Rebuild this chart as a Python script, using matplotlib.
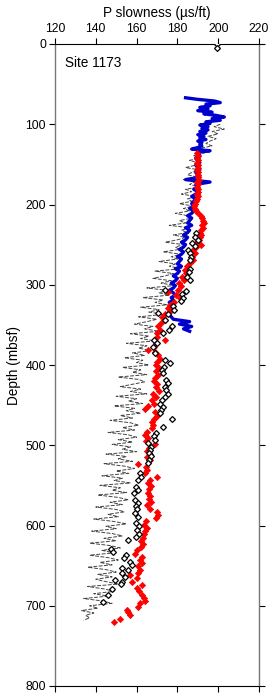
import numpy as np
import matplotlib
matplotlib.use("Agg")
import matplotlib.pyplot as plt

plt.rcParams['font.family'] = ['Liberation Sans', 'DejaVu Sans']

# ---- data ----
x_ticks = [120, 140, 160, 180, 200, 220]
y_ticks = [0, 100, 200, 300, 400, 500, 600, 700, 800]

gray_depth = [100, 103, 106, 109, 112, 115, 118, 121, 124, 127, 130, 133,
              136, 139, 142, 145, 148, 151, 154, 157, 160, 163, 166, 169, 172, 175, 178, 181, 184, 187, 190, 193, 196, 199,
              202, 205, 208, 211, 214, 217, 220, 223, 226, 229, 232, 235, 238, 241, 244, 247, 250, 253, 256, 259,
              262, 265, 268, 271, 274, 277, 280, 283, 286, 289, 292, 295, 298, 301, 304, 307, 310, 313, 316, 319, 322, 325, 328, 331, 334, 337, 340,
              343, 346, 349, 352, 355, 358, 361, 364, 367, 370, 373, 376, 379, 382, 385, 388, 391, 394, 397, 400, 403, 406, 409, 412, 415, 418,
              421, 424, 427, 430, 433, 436, 439, 442, 445, 448, 451, 454, 457, 460, 463, 466, 469, 472, 475, 478, 481, 484, 487, 490, 493, 496, 499,
              502, 505, 508, 511, 514, 517, 520, 523, 526, 529, 532, 535, 538, 541, 544, 547, 550, 553, 556, 559, 562, 565, 568, 571, 574, 577, 580,
              583, 586, 589, 592, 595, 598, 601, 604, 607, 610, 613, 616, 619, 622, 625, 628, 631, 634, 637, 640, 643, 646, 649, 652, 655, 658, 661,
              664, 667, 670, 673, 676, 679, 682, 685, 688, 691, 694, 697, 700, 703, 706, 709, 712, 715, 718]
gray_slow = [201, 198, 203, 197, 200, 195, 199, 196, 194, 197, 191, 195,
             193, 188, 191, 186, 190, 189, 184, 191, 187, 185, 190, 183, 188, 186, 191, 184, 187, 182, 189, 185, 187, 181,
             188, 183, 186, 179, 185, 187, 181, 184, 176, 186, 182, 185, 178, 184, 180, 174, 183, 179, 181, 173,
             182, 177, 180, 171, 179, 176, 182, 169, 178, 174, 168, 177, 172, 179, 165, 175, 171, 176, 163, 173, 169, 175, 162, 171, 166, 173, 161,
             170, 165, 159, 168, 164, 171, 157, 166, 162, 169, 155, 165, 161, 167, 158, 164, 154, 163, 160, 166, 153, 162, 158, 165, 151, 161,
             164, 158, 152, 162, 157, 165, 150, 160, 156, 163, 149, 159, 155, 162, 152, 158, 147, 157, 161, 153, 159, 146, 156, 160, 151, 158, 148,
             157, 153, 160, 145, 155, 151, 158, 144, 154, 159, 150, 156, 143, 153, 149, 157, 142, 152, 148, 155, 141, 151, 156, 147, 153, 140, 150,
             154, 146, 151, 139, 149, 155, 145, 150, 138, 148, 153, 144, 150, 137, 147, 152, 143, 149, 137, 146, 151, 142, 148, 136, 145, 150, 141,
             148, 140, 145, 151, 136, 144, 149, 139, 146, 134, 143, 148, 137, 141, 133, 139, 135, 137, 134]

blue_depth = [67, 69, 71, 73, 75, 77, 79, 81, 83, 85, 87, 89, 91, 93, 95, 97, 99, 101, 103, 105, 107, 109,
              111, 113, 115, 117, 119, 121, 123, 125, 127, 129, 131, 133, 135, 139, 142, 145, 148, 151, 154,
              157, 160, 163, 166, 169, 172, 175, 178, 181, 184, 187, 190, 193, 196, 199, 202, 205, 208, 211,
              214, 217, 220, 223, 226, 229, 232, 235, 238, 241, 244, 247, 250, 253, 256, 259, 262, 265, 268,
              271, 274, 277, 280, 283, 286, 289, 292, 295, 298, 301, 304, 307, 310, 313, 316, 319, 322, 325,
              328, 331, 334, 337, 340, 343, 346, 349, 352, 355, 358]
blue_slow = [184, 190, 198, 201, 194, 196, 191, 195, 190, 197, 193, 199, 203, 197, 201, 194, 196, 191, 195, 192, 195, 191,
             194, 190, 193, 191, 194, 190, 192, 191, 192, 190, 187, 196, 190, 191, 189, 190, 191, 189, 190,
             191, 189, 190, 191, 184, 196, 189, 190, 188, 190, 189, 187, 189, 188, 187, 188, 186, 188, 187,
             185, 187, 186, 185, 187, 184, 186, 185, 183, 185, 184, 182, 184, 183, 181, 183, 182, 180, 182,
             181, 180, 182, 179, 181, 180, 178, 180, 179, 177, 179, 178, 176, 178, 179, 177, 178, 176, 178,
             177, 176, 177, 176, 177, 178, 186, 181, 187, 183, 186]

red_depth = [136, 139, 142, 145, 148, 151, 154, 157, 160, 163, 166, 169, 172, 175, 178, 181, 184, 187, 190, 193,
             196, 199, 202, 205, 208, 211, 214, 217, 220, 223, 226, 229, 232, 235, 238, 241, 244, 247, 250, 253,
             257, 261, 265, 269, 273, 277, 281, 285, 290, 294, 298, 302, 306, 309, 313, 317, 321, 325, 329, 333,
             337, 340, 344, 348, 352, 356, 360, 365, 369, 373, 377, 381, 384, 388, 392, 396, 400, 404, 408, 412,
             416, 420, 424, 428, 432, 436, 440, 444, 448, 451, 455, 459, 463, 467, 471, 475, 479, 483, 487, 491,
             495, 499, 503, 507, 511, 515, 519, 523, 527, 531, 535, 539, 543, 547, 551, 555, 559, 563, 567, 571,
             575, 579, 583, 587, 591, 595, 599, 603, 607, 611, 615, 619, 623, 627, 631, 635, 639, 643, 647, 651,
             655, 659, 662, 666, 670, 674, 678, 682, 686, 690, 694, 697, 701, 705, 708, 712, 716, 720]
red_slow = [189.5, 190.0, 189.8, 190.2, 189.7, 190.1, 190.0, 189.6, 190.3, 189.9, 190.0, 190.4, 189.8, 190.1, 189.7, 190.2, 190.0, 189.6, 190.1, 189.4,
            188.9, 188.4, 188.1, 188.6, 189.3, 190.2, 191.4, 192.1, 192.5, 192.8, 192.3, 192.6, 191.8, 191.2, 191.6, 191.0, 190.4, 189.5, 191.8, 189.0,
            187.6, 188.8, 187.2, 187.8, 186.2, 184.6, 183.5, 184.2, 182.3, 183.0, 181.0, 181.8, 180.4, 175.6, 179.2, 181.3, 178.5, 176.2, 175.3, 176.4,
            173.8, 172.5, 174.0, 171.8, 170.5, 171.4, 169.8, 170.2, 173.8, 169.5, 168.4, 165.8, 169.1, 170.6, 171.3, 170.0, 169.6, 171.1, 169.3, 170.4,
            169.0, 168.3, 170.2, 169.5, 171.2, 168.0, 169.4, 167.6, 168.5, 165.8, 164.2, 169.1, 169.8, 168.6, 167.5, 168.2, 167.4, 165.1, 164.3, 165.6,
            164.8, 169.0, 166.2, 165.0, 166.4, 165.3, 166.7, 160.8, 164.5, 165.2, 164.0, 169.8, 166.5, 165.4, 167.2, 166.0, 165.5, 166.4, 165.9, 167.1,
            165.2, 166.8, 170.0, 170.6, 169.4, 164.5, 163.8, 165.0, 164.2, 163.6, 162.9, 162.4, 163.0, 162.0, 160.2, 159.4, 162.5, 161.9, 162.6, 160.9,
            161.5, 160.7, 156.8, 160.4, 157.6, 162.5, 160.2, 161.3, 162.7, 163.5, 164.1, 161.7, 160.8, 155.2, 155.6, 156.8, 151.9, 148.8]

black_depth = [0, 5, 236, 240, 244, 248, 252, 257, 261, 265, 269, 280, 284, 290, 294, 306, 308, 312, 316, 320,
               327, 331, 335, 337, 344, 352, 356, 360, 369, 373, 377, 385, 394, 398, 402, 406, 410, 419, 423, 427,
               431, 436, 440, 444, 448, 452, 456, 460, 467, 477, 485, 489, 493, 497, 502, 506, 510, 514, 518, 522,
               535, 539, 543, 552, 556, 560, 568, 572, 576, 580, 585, 589, 597, 601, 605, 610, 614, 618, 629, 633,
               637, 641, 645, 649, 653, 656, 659, 664, 668, 670, 673, 679, 687, 695]
black_slow = [199.6, 199.6, 189.0, 188.6, 190.0, 187.2, 188.4, 185.4, 186.2, 186.6, 186.0, 186.2, 185.8, 184.5, 186.0, 173.9, 184.0, 182.2, 182.8, 181.6,
              178.0, 178.4, 170.6, 175.5, 173.9, 177.2, 176.0, 173.0, 168.6, 169.8, 168.0, 169.0, 174.0, 176.4, 173.2, 172.6, 173.0, 174.2, 175.2, 173.9,
              174.4, 175.2, 174.0, 172.6, 171.5, 173.0, 172.2, 171.6, 177.2, 173.0, 169.6, 168.4, 169.2, 165.8, 167.2, 166.4, 165.9, 167.0, 166.0, 165.7,
              161.5, 162.3, 160.9, 159.8, 160.5, 158.6, 159.4, 160.6, 159.8, 160.2, 159.4, 160.8, 159.6, 161.3, 160.2, 161.0, 159.5, 155.9, 147.6, 148.4,
              155.0, 153.6, 156.6, 157.6, 152.7, 155.9, 152.9, 154.3, 149.4, 152.7, 152.4, 147.8, 146.1, 143.7]

site_label = "Site 1173"

# ---- figure ----
fig = plt.figure(figsize=(2.70, 6.93), dpi=100)
ax = fig.add_axes([55/270, 1-686/693, (259-55)/270, (686-44)/693])

ax.plot(gray_slow, gray_depth, color='#454545', lw=0.7, ls=(0, (4, 1.5)), zorder=2)
ax.plot(blue_slow, blue_depth, color='#0000cc', lw=2.4, zorder=3)
ax.plot(red_slow, red_depth, linestyle='none', marker='D', ms=3.2, mfc='#ff0000', mec='#ff0000', mew=0.5, zorder=4)
ax.plot(black_slow, black_depth, linestyle='none', marker='D', ms=3.0, mfc='white', mec='black', mew=0.9, zorder=5)

ax.set_xlim(120, 220)
ax.set_ylim(800, 0)
ax.set_xticks(x_ticks)
ax.set_yticks(y_ticks)
ax.xaxis.set_ticks_position('both')
ax.xaxis.set_label_position('top')
ax.tick_params(axis='x', which='both', direction='out', length=4.5, width=0.8, labelsize=8.8,
               top=True, bottom=True, labeltop=True, labelbottom=False, pad=2)
ax.tick_params(axis='y', which='both', direction='out', length=4.5, width=0.8, labelsize=8.8,
               left=True, right=True, labelleft=True, labelright=False, pad=2)
ax.set_xlabel("P slowness (µs/ft)", fontsize=9.8, labelpad=4)
ax.set_ylabel("Depth (mbsf)", fontsize=9.8, labelpad=3)
for side in ['left', 'right']:
    ax.spines[side].set_color('#777777')
    ax.spines[side].set_linewidth(1.0)
for side in ['top', 'bottom']:
    ax.spines[side].set_color('black')
    ax.spines[side].set_linewidth(0.8)

ax.text(0.05, 0.9705, site_label, transform=ax.transAxes, fontsize=9.8, ha='left', va='center')

fig.savefig("out.png", dpi=100)
